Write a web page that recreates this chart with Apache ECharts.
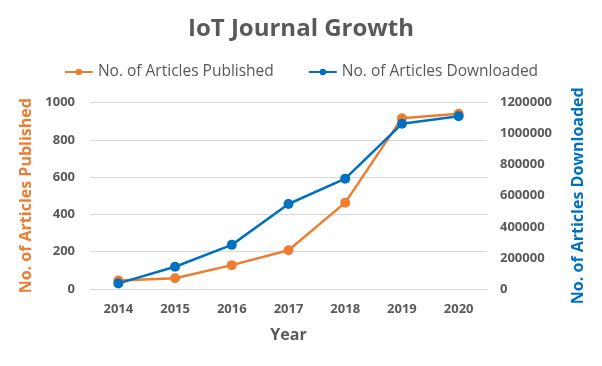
<!DOCTYPE html>
<html><head><meta charset="utf-8">
<script src="https://cdn.jsdelivr.net/npm/echarts@6/dist/echarts.min.js"></script>
<style>html,body{margin:0;padding:0;background:#fff}#c{width:602px;height:366px}</style>
</head><body><div id="c"></div>
<script>
const years = ['2014','2015','2016','2017','2018','2019','2020'];
const published = [45, 58, 128, 208, 463, 916, 940];
const downloaded = [36000, 143000, 284000, 547000, 710000, 1063000, 1112000];
const leftTicks = [0, 200, 400, 600, 800, 1000];
const rightTicks = [0, 200000, 400000, 600000, 800000, 1000000, 1200000];

const FONT = '"Open Sans", "Noto Sans", sans-serif';
const GREY = '#595959';
const ORANGE = '#ED7D31';
const BLUE = '#0070C0';
const plain = v => String(v);

const chart = echarts.init(document.getElementById('c'), null, {renderer: 'canvas'});
chart.setOption({
  animation: false,
  textStyle: {fontFamily: FONT},
  title: {
    text: 'IoT Journal Growth', left: 'center', top: 12,
    textStyle: {fontFamily: FONT, fontSize: 24, fontWeight: 'bold', color: GREY}
  },
  legend: {
    top: 59, left: 'center', itemGap: 34, itemWidth: 28, itemHeight: 8,
    textStyle: {fontFamily: FONT, fontSize: 15.5, color: GREY}
  },
  grid: {left: 90, right: 115, top: 102.5, bottom: 77},
  xAxis: {
    type: 'category', data: years, boundaryGap: true,
    name: 'Year', nameLocation: 'middle', nameGap: 38,
    nameTextStyle: {fontFamily: FONT, fontSize: 16, fontWeight: 'bold', color: GREY},
    axisLine: {show: true, lineStyle: {color: '#d9d9d9'}},
    axisTick: {show: false},
    axisLabel: {fontFamily: FONT, fontSize: 13, fontWeight: 'bold', color: GREY, margin: 14}
  },
  yAxis: [{
    type: 'value', min: leftTicks[0], max: leftTicks[leftTicks.length-1], interval: 200,
    name: 'No. of Articles Published', nameLocation: 'middle', nameGap: 53, nameRotate: 90,
    nameTextStyle: {fontFamily: FONT, fontSize: 16, fontWeight: 'bold', color: ORANGE},
    axisLine: {show: false}, axisTick: {show: false},
    axisLabel: {fontFamily: FONT, fontSize: 13, fontWeight: 'bold', color: GREY, margin: 15, formatter: plain},
    splitLine: {lineStyle: {color: '#d9d9d9'}}
  }, {
    type: 'value', min: rightTicks[0], max: rightTicks[rightTicks.length-1], interval: 200000,
    name: 'No. of Articles Downloaded', nameLocation: 'middle', nameGap: 83, nameRotate: 90,
    nameTextStyle: {fontFamily: FONT, fontSize: 16, fontWeight: 'bold', color: BLUE},
    axisLine: {show: false}, axisTick: {show: false},
    axisLabel: {fontFamily: FONT, fontSize: 13, fontWeight: 'bold', color: GREY, margin: 13, formatter: plain},
    splitLine: {show: false}
  }],
  series: [{
    name: 'No. of Articles Published', type: 'line', yAxisIndex: 0, data: published,
    symbol: 'circle', symbolSize: 10, color: ORANGE,
    lineStyle: {width: 2.5, color: ORANGE}, itemStyle: {color: ORANGE}
  }, {
    name: 'No. of Articles Downloaded', type: 'line', yAxisIndex: 1, data: downloaded,
    symbol: 'circle', symbolSize: 10, color: BLUE,
    lineStyle: {width: 2.5, color: BLUE}, itemStyle: {color: BLUE}
  }]
});
</script></body></html>
